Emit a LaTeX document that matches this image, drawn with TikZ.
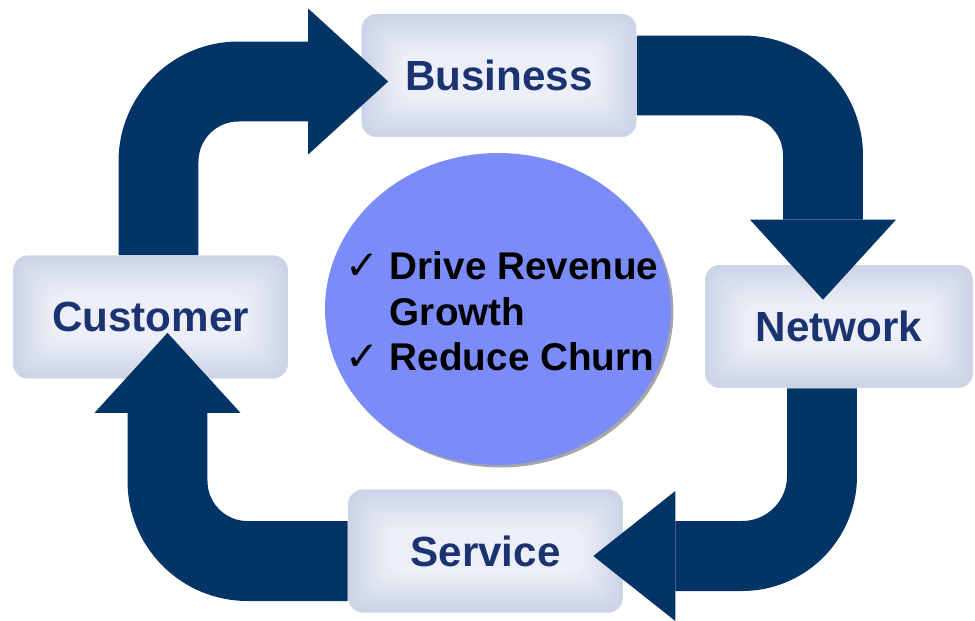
\documentclass[tikz,border=0pt]{standalone}
\usepackage{fontspec}
\setmainfont{Liberation Sans}
\newfontfamily\symfont{DejaVu Sans}
\usetikzlibrary{arrows.meta,shapes.geometric,shadows}
\definecolor{arrnavy}{HTML}{033466}
\definecolor{boxtext}{HTML}{1B3370}
\definecolor{boxedge}{HTML}{CDD4E7}
\definecolor{boxin}{HTML}{ECEFF7}
\definecolor{goalblue}{HTML}{7B8CF8}
\newcommand{\tick}{{\symfont\fontsize{23}{25}\selectfont ✓}}

\begin{document}
\begin{tikzpicture}[
    x=0.02cm, y=-0.02cm,
    stage/.style={rectangle, rounded corners=0.3cm, fill=boxedge, minimum width=5.5cm, minimum height=2.46cm,
        font=\fontsize{24}{28}\selectfont\bfseries, text=boxtext,
        path picture={
            \foreach \k [evaluate=\k as \p using int(\k*9)] in {0,...,11}
                \fill[boxin!\p!boxedge, rounded corners=9pt]
                    ([shift={(\k*3.5,-\k*3.5)}]path picture bounding box.south west) rectangle
                    ([shift={(-\k*3.5,\k*3.5)}]path picture bounding box.north east);
        }},
    goal/.style={ellipse, fill=goalblue, minimum width=6.92cm, minimum height=6.24cm, inner sep=0pt,
        drop shadow={shadow xshift=0.05cm, shadow yshift=-0.05cm, fill=gray!70, opacity=1}},
    bigarr/.style={draw=arrnavy, line width=1.6cm, rounded corners=1.6cm,
        -{Triangle[length=1.6cm, width=2.92cm, line width=0pt 0 0]}}
]
\useasboundingbox (0,0) rectangle (975,620);

% the four stages
\node[stage] (bus) at (499,75.5) {Business};
\node[stage, minimum width=5.36cm] (net) at (839,326.5) {Network};
\node[stage] (serv) at (485.5,551) {Service};
\node[stage] (cust) at (150.5,317) {Customer};

% goals in the middle
\node[goal] (goal) at (498,309) {};
\node[font=\fontsize{22}{26}\selectfont\bfseries] (goaltext) at (502,316) {%
    \begin{tabular}{@{}l@{\hspace{6pt}}l@{}}
    \tick & Drive Revenue\\
          & Growth\\
    \tick & Reduce Churn
    \end{tabular}};

% cycle arrows
\draw[bigarr] ([shift={(8,0)}]cust.north) |- ([shift={(27,6)}]bus.west);
\draw[bigarr] (bus.east) -| ([shift={(-16,35)}]net.north);
\draw[bigarr, line width=1.4cm, -{Triangle[length=1.64cm, width=2.6cm, line width=0pt 0 0]}]
    ([shift={(-17,0)}]net.south) |- ([shift={(-30,5)}]serv.east);
\draw[bigarr] ([shift={(0,10)}]serv.west) -| ([shift={(17,-46)}]cust.south);
\end{tikzpicture}
\end{document}
